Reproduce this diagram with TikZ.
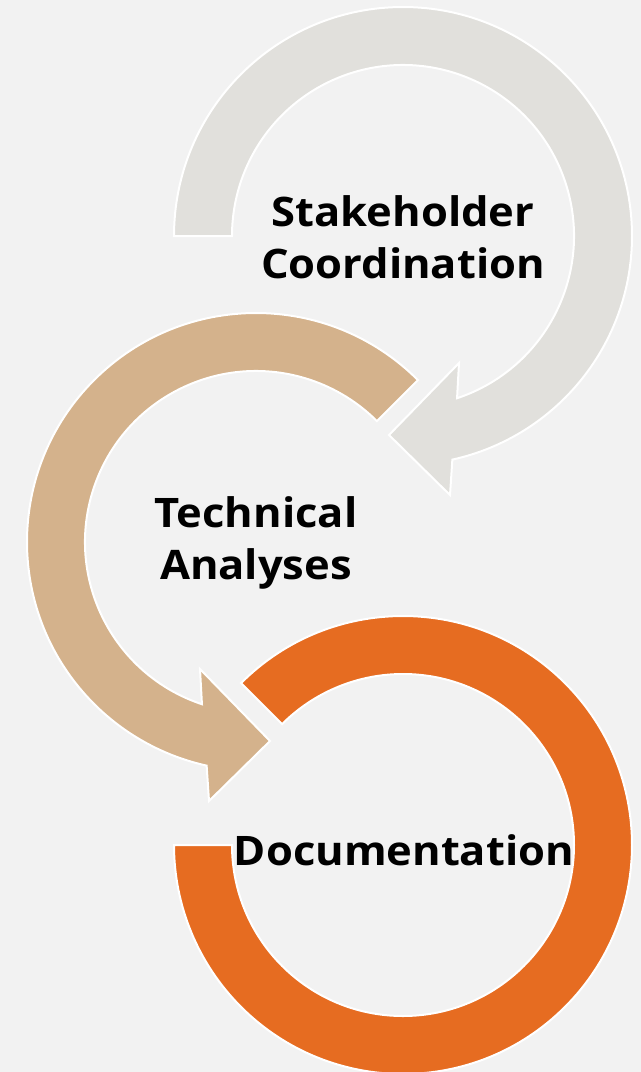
\documentclass[tikz,border=0pt]{standalone}
\usepackage{fontspec}
\setmainfont{Open Sans}[BoldFeatures={FakeStretch=1.07}]
\usetikzlibrary{calc}
\definecolor{bgc}{HTML}{F2F2F2}
\definecolor{grayarr}{HTML}{E1E0DC}
\definecolor{tanarr}{HTML}{D4B28C}
\definecolor{orangearr}{HTML}{E66C21}
\tikzset{
  arrowshape/.style={draw=white, line width=1.5pt, line join=miter},
  label/.style={font=\bfseries\fontsize{30.5}{39}\selectfont, align=center, text=black, inner sep=0pt}
}
\begin{document}
\begin{tikzpicture}[x=0.75pt,y=0.75pt]
\fill[bgc] (0,0) rectangle (641,-1072);
\useasboundingbox (0,0) rectangle (641,-1072);
\coordinate (c1) at (403,-236);
\coordinate (c2) at (256,-542);
\coordinate (c3) at (403,-845);
% gray arrow
\filldraw[arrowshape, fill=grayarr]
  ($(c1)+(180:229)$) arc[start angle=180, end angle=-77.55, radius=229]
  -- ($(c1)+(47,-259)$) -- ($(c1)+(-14,-199)$) -- ($(c1)+(56,-127)$)
  -- ($(c1)+(-71.57:171)$) arc[start angle=-71.57, end angle=180, radius=171]
  -- cycle;
% tan arrow
\filldraw[arrowshape, fill=tanarr]
  ($(c2)+(45:229)$) arc[start angle=45, end angle=257.55, radius=229]
  -- ($(c2)+(-47,-259)$) -- ($(c2)+(14,-199)$) -- ($(c2)+(-56,-127)$)
  -- ($(c2)+(251.57:171)$) arc[start angle=251.57, end angle=45, radius=171]
  -- cycle;
% orange arrow
\filldraw[arrowshape, fill=orangearr]
  ($(c3)+(135:229)$) arc[start angle=135, end angle=-180, radius=229]
  -- ($(c3)+(-180:171)$) arc[start angle=-180, end angle=135, radius=171]
  -- cycle;
\node[label] (t1) at ($(c1)+(0,-1)$) {Stakeholder\\Coordination};
\node[label] (t2) at ($(c2)+(0,-1)$) {Technical\\Analyses};
\node[label] (t3) at ($(c3)+(1,-5)$) {Documentation};
\end{tikzpicture}
\end{document}
